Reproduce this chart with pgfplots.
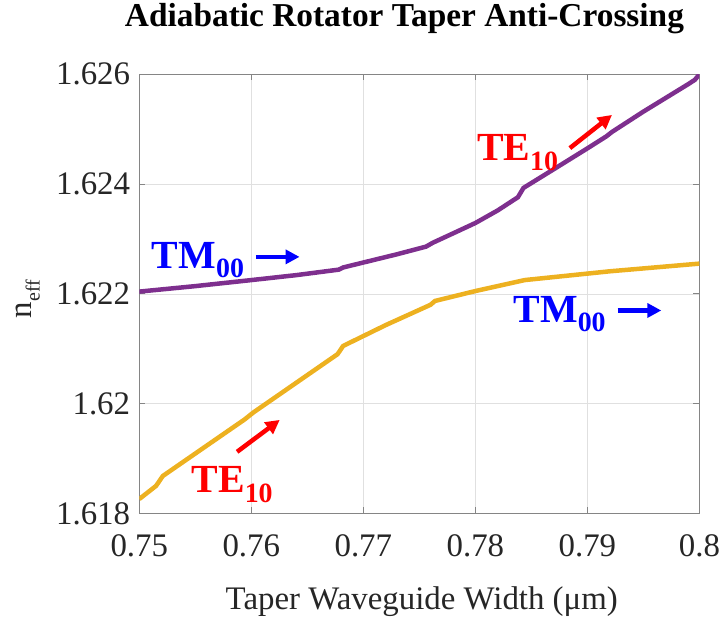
\documentclass[border=0pt]{standalone}
\usepackage{pgfplots}
\pgfplotsset{compat=1.18}
\usepackage{fontspec}
\setmainfont{Liberation Serif}
\usetikzlibrary{arrows.meta}
\definecolor{mpurple}{HTML}{7E2F8E}
\definecolor{myellow}{HTML}{EDB120}
\definecolor{axgray}{HTML}{858585}
\definecolor{txt}{HTML}{262626}
\definecolor{mblue}{HTML}{0000FF}
\definecolor{mred}{HTML}{FF0000}
\newcommand{\lab}[3]{{\rmfamily\fontsize{40}{40}\selectfont\bfseries #1\raisebox{-#3}{\fontsize{28}{28}\selectfont #2}}}

\begin{document}
\begin{tikzpicture}
\begin{axis}[
  at={(139.3bp,105.7bp)}, anchor=south west,
  scale only axis, width=560.1bp, height=439bp,
  xmin=0.75, xmax=0.8, ymin=1.618, ymax=1.626,
  xtick={0.75,0.76,0.77,0.78,0.79,0.8},
  xticklabels={0.75,0.76,0.77,0.78,0.79,0.8},
  ytick={1.618,1.62,1.622,1.624,1.626},
  yticklabels={1.618,1.62,1.622,1.624,1.626},
  /pgf/number format/assume math mode=true,
  tick label style={font=\rmfamily\fontsize{33}{33}\selectfont, text=txt},
  xticklabel style={inner sep=0pt, yshift=-21bp},
  yticklabel style={inner sep=0pt, xshift=-9bp},
  tick align=inside,
  major tick length=6bp,
  axis line style={axgray, line width=0.8bp},
  every tick/.style={axgray, line width=0.8bp},
  grid=major,
  major grid style={black!12, line width=0.6bp},
  title={Adiabatic Rotator Taper Anti-Crossing},
  title style={font=\rmfamily\fontsize{33.5}{34}\selectfont\bfseries, at={(axis description cs:0.4734,1.0957)}, anchor=base, inner sep=0pt},
  xlabel={Taper Waveguide Width (μm)},
  xlabel style={font=\rmfamily\fontsize{33}{33}\selectfont, text=txt, at={(axis description cs:0.5043,-0.2187)}, anchor=base, inner sep=0pt},
  ylabel={n\raisebox{-8bp}{\fontsize{20}{20}\selectfont eff}},
  ylabel style={font=\rmfamily\fontsize{33}{33}\selectfont, text=txt, at={(axis description cs:-0.1921,0.488)}, anchor=base, inner sep=0pt},
]
\addplot[mpurple, line width=4.5bp] table {
x y
0.7500 1.62204
0.7550 1.62214
0.7600 1.62225
0.7640 1.62234
0.7678 1.62244
0.7682 1.62248
0.7700 1.62257
0.7730 1.62272
0.7756 1.62286
0.7762 1.62293
0.7780 1.62310
0.7800 1.62329
0.7820 1.62352
0.7838 1.62376
0.7843 1.62393
0.7870 1.62427
0.7900 1.62465
0.7917 1.62487
0.7922 1.62495
0.7950 1.62532
0.7990 1.62582
0.7996 1.62590
0.8000 1.62600
};
\addplot[myellow, line width=4.5bp] table {
x y
0.7500 1.61826
0.7515 1.61850
0.7521 1.61868
0.7594 1.61971
0.7602 1.61984
0.7677 1.62090
0.7682 1.62105
0.7720 1.62143
0.7760 1.62180
0.7764 1.62187
0.7800 1.62205
0.7844 1.62225
0.7920 1.62241
0.8000 1.62255
};
\node[anchor=base west, inner sep=0pt, text=mblue] at (axis cs:0.75111,1.622455) {\lab{TM}{00}{9bp}};
\node[anchor=base west, inner sep=0pt, text=mred] at (axis cs:0.780134,1.624424) {\lab{TE}{10}{10bp}};
\node[anchor=base west, inner sep=0pt, text=mblue] at (axis cs:0.783393,1.621473) {\lab{TM}{00}{9bp}};
\node[anchor=base west, inner sep=0pt, text=mred] at (axis cs:0.754652,1.618382) {\lab{TE}{10}{10bp}};
\draw[mblue, line width=4.5bp, -{Triangle[length=14bp,width=14bp]}] (axis cs:0.760402,1.622673) -- (axis cs:0.764304,1.622673);
\draw[mred, line width=4.5bp, -{Triangle[length=14bp,width=14bp]}] (axis cs:0.788438,1.624655) -- (axis cs:0.792196,1.62526);
\draw[mblue, line width=4.5bp, -{Triangle[length=14bp,width=14bp]}] (axis cs:0.792696,1.621696) -- (axis cs:0.79660,1.621696);
\draw[mred, line width=4.5bp, -{Triangle[length=14bp,width=14bp]}] (axis cs:0.758732,1.61912) -- (axis cs:0.762536,1.619702);
\end{axis}
\pgfresetboundingbox
\path (0,0) rectangle (720bp,619bp);
\end{tikzpicture}
\end{document}
